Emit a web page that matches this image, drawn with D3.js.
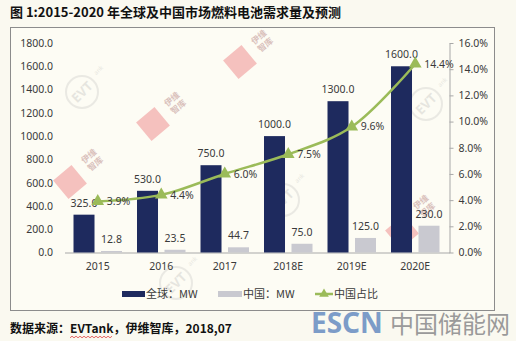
<!DOCTYPE html>
<html>
<head>
<meta charset="utf-8">
<script src="https://cdn.jsdelivr.net/npm/d3@7"></script>
<style>
  html, body { margin: 0; padding: 0; background: #faf9f0; }
  svg { display: block; }
  text { font-family: "Noto Sans", "Open Sans", sans-serif; }
  .cjk { font-family: "Noto Sans CJK SC", "Noto Sans", sans-serif; }
</style>
</head>
<body>
<svg id="chart" width="516" height="341"></svg>
<script>
// Fuel cell demand, global vs China, 2015-2020
const years = ["2015", "2016", "2017", "2018E", "2019E", "2020E"];
const globalMW = [325.0, 530.0, 750.0, 1000.0, 1300.0, 1600.0];
const chinaMW = [12.8, 23.5, 44.7, 75.0, 125.0, 230.0];
const chinaShare = [3.9, 4.4, 6.0, 7.5, 9.6, 14.4];
const leftTicks = [0, 200, 400, 600, 800, 1000, 1200, 1400, 1600, 1800];
const rightTicks = [0, 2, 4, 6, 8, 10, 12, 14, 16];
const seriesNames = ["全球：MW", "中国：MW", "中国占比"];

const titleText = "图 1:2015-2020 年全球及中国市场燃料电池需求量及预测";
const sourceParts = ["数据来源：", "EVTank", "，伊维智库，2018,07"];

const colors = { global: "#1e2a5e", china: "#c9c9d0", line: "#9bbb59", text: "#3a3a3a", axis: "#a8a8a8" };

const svg = d3.select("#chart");

// outer frame of the chart
svg.append("rect").attr("x", 10.5).attr("y", 27.5).attr("width", 484).attr("height", 283)
  .attr("fill", "#fdfcf4").attr("stroke", "#8c8c8c").attr("stroke-width", 1);

// title
svg.append("text").attr("class", "cjk").attr("x", 10).attr("y", 17)
  .attr("font-size", 13).attr("font-weight", 700).attr("fill", "#111").text(titleText);

// scales
const x = d3.scaleBand().domain(years).range([66, 447]).padding(0);
const xs = d3.scaleBand().domain(["global", "china"]).range([0, x.bandwidth()])
  .paddingInner(0.236).paddingOuter(0.273);
const y = d3.scaleLinear().domain([0, 1800]).range([252.5, 43]);
const y2 = d3.scaleLinear().domain([0, 16]).range([252.5, 43]);

// watermark decorations
const wmSquares = [[70, 182], [153, 124], [240, 62], [402, 232]];
const wmSquareText = [[92, 160], [175, 103], [262, 41], [424, 206]];
const wmLogos = [[82, 92], [283, 200], [426, 104], [176, 283]];
const wm = svg.append("g").attr("pointer-events", "none");
wmSquares.forEach(([cx, cy]) => {
  wm.append("rect").attr("x", -12).attr("y", -12).attr("width", 24).attr("height", 24)
    .attr("fill", "#f09a9a").attr("opacity", 0.6)
    .attr("transform", `translate(${cx},${cy}) rotate(-40)`);
});
wmSquareText.forEach(([cx, cy]) => {
  const g = wm.append("g").attr("transform", `translate(${cx},${cy}) rotate(-40)`).attr("opacity", 0.45);
  g.append("text").attr("class", "cjk").attr("font-size", 8.5).attr("font-weight", 700)
    .attr("fill", "#b07a7a").attr("text-anchor", "middle").attr("y", -2).text("伊维");
  g.append("text").attr("class", "cjk").attr("font-size", 8.5).attr("font-weight", 700)
    .attr("fill", "#b07a7a").attr("text-anchor", "middle").attr("y", 8).text("智库");
});
wmLogos.forEach(([cx, cy]) => {
  const g = wm.append("g").attr("transform", `translate(${cx},${cy}) rotate(-45)`).attr("opacity", 0.22);
  g.append("circle").attr("r", 16).attr("fill", "none").attr("stroke", "#aaa").attr("stroke-width", 2);
  g.append("text").attr("font-size", 13).attr("font-weight", 700).attr("fill", "#999")
    .attr("text-anchor", "middle").attr("dy", "0.35em").text("EVT");
  g.append("text").attr("font-size", 6).attr("fill", "#999").attr("x", 22).attr("dy", "-0.3em").text("ank");
});

// left axis labels (no axis line)
const leftAxis = d3.axisLeft(y).tickValues(leftTicks).tickFormat(d3.format(".1f")).tickSize(0).tickPadding(0);
const gl = svg.append("g").attr("transform", "translate(53,0)").call(leftAxis);
gl.select(".domain").remove();
gl.selectAll("text").attr("font-size", 10.5).attr("fill", colors.text)
  .attr("font-family", "Noto Sans, sans-serif");

// right axis
const rightAxis = d3.axisRight(y2).tickValues(rightTicks).tickFormat(d => d3.format(".1f")(d) + "%")
  .tickSizeInner(4).tickSizeOuter(0).tickPadding(5);
const gr = svg.append("g").attr("transform", "translate(449.5,0)").call(rightAxis);
gr.select(".domain").attr("stroke", colors.axis);
gr.selectAll(".tick line").attr("stroke", colors.axis);
gr.selectAll("text").attr("font-size", 10.5).attr("fill", colors.text)
  .attr("font-family", "Noto Sans, sans-serif");

// category axis
const bottomAxis = d3.axisBottom(x).tickSize(0).tickPadding(10);
const gb = svg.append("g").attr("transform", `translate(0,${y(0)})`).call(bottomAxis);
gb.select(".domain").attr("stroke", colors.axis).attr("d", `M65,0.5H450`);
gb.selectAll("text").attr("font-size", 10.5).attr("fill", colors.text)
  .attr("font-family", "Noto Sans, sans-serif");

// bars
const groups = svg.append("g").selectAll("g").data(years).join("g")
  .attr("transform", d => `translate(${x(d)},0)`);

groups.append("rect")
  .attr("x", xs("global")).attr("width", xs.bandwidth())
  .attr("y", (d, i) => y(globalMW[i])).attr("height", (d, i) => y(0) - y(globalMW[i]))
  .attr("fill", colors.global);

groups.append("rect")
  .attr("x", xs("china")).attr("width", xs.bandwidth())
  .attr("y", (d, i) => y(chinaMW[i])).attr("height", (d, i) => y(0) - y(chinaMW[i]))
  .attr("fill", colors.china);

groups.append("text")
  .attr("x", xs("global") + xs.bandwidth() / 2).attr("y", (d, i) => y(globalMW[i]) - 8)
  .attr("text-anchor", "middle").attr("font-size", 10.5).attr("fill", colors.text)
  .text((d, i) => d3.format(".1f")(globalMW[i]));

groups.append("text")
  .attr("x", xs("china") + xs.bandwidth() / 2).attr("y", (d, i) => y(chinaMW[i]) - 8)
  .attr("text-anchor", "middle").attr("font-size", 10.5).attr("fill", colors.text)
  .text((d, i) => d3.format(".1f")(chinaMW[i]));

// share line
const pts = years.map((d, i) => [x(d) + x.bandwidth() / 2, y2(chinaShare[i])]);
svg.append("path").datum(pts)
  .attr("d", d3.line().curve(d3.curveCatmullRom.alpha(0.5)))
  .attr("fill", "none").attr("stroke", colors.line).attr("stroke-width", 2.5);

const tri = d3.symbol().type(d3.symbolTriangle).size(70);
svg.append("g").selectAll("path").data(pts).join("path")
  .attr("d", tri).attr("transform", p => `translate(${p[0]},${p[1]})`)
  .attr("fill", colors.line);

svg.append("g").selectAll("text").data(pts).join("text")
  .attr("x", p => p[0] + 9).attr("y", p => p[1]).attr("dy", "0.35em")
  .attr("font-size", 10.5).attr("fill", colors.text)
  .text((p, i) => d3.format(".1f")(chinaShare[i]) + "%");

// legend
const legend = svg.append("g").attr("transform", "translate(0,294)");
legend.append("rect").attr("x", 122).attr("y", -3).attr("width", 23).attr("height", 6).attr("fill", colors.global);
legend.append("text").attr("class", "cjk").attr("x", 146).attr("dy", "0.35em").attr("font-size", 11)
  .attr("fill", colors.text).text(seriesNames[0]);
legend.append("rect").attr("x", 218).attr("y", -3).attr("width", 24).attr("height", 6).attr("fill", colors.china);
legend.append("text").attr("class", "cjk").attr("x", 243).attr("dy", "0.35em").attr("font-size", 11)
  .attr("fill", colors.text).text(seriesNames[1]);
legend.append("line").attr("x1", 315).attr("x2", 333).attr("stroke", colors.line).attr("stroke-width", 2.5);
legend.append("path").attr("d", d3.symbol().type(d3.symbolTriangle).size(40))
  .attr("transform", "translate(324,0)").attr("fill", colors.line);
legend.append("text").attr("class", "cjk").attr("x", 334).attr("dy", "0.35em").attr("font-size", 11)
  .attr("fill", colors.text).text(seriesNames[2]);

// source line, with the spell-check squiggle under the brand name
const src = svg.append("text").attr("class", "cjk").attr("x", 10).attr("y", 333)
  .attr("font-size", 12).attr("font-weight", 700).attr("fill", "#111");
sourceParts.forEach(t => src.append("tspan").text(t));
const srcNode = src.node();
const wStart = 10 + srcNode.getSubStringLength(0, sourceParts[0].length);
const wLen = srcNode.getSubStringLength(sourceParts[0].length, sourceParts[1].length);
const wave = d3.range(0, Math.floor(wLen / 2) + 1).map(k => [wStart + k * 2, 337 + (k % 2 ? -0.8 : 0.8)]);
svg.append("path").attr("d", d3.line()(wave)).attr("fill", "none")
  .attr("stroke", "#e04040").attr("stroke-width", 0.8);

// site mark
svg.append("text").attr("x", 311).attr("y", 333).attr("font-size", 28).attr("font-weight", 700)
  .attr("font-family", "Liberation Sans, sans-serif").attr("fill", "#6f93c4").attr("opacity", 0.9).text("ESCN");
svg.append("text").attr("class", "cjk").attr("x", 390).attr("y", 333).attr("font-size", 24)
  .attr("fill", "#9a9a9a").text("中国储能网");
</script>
</body>
</html>
